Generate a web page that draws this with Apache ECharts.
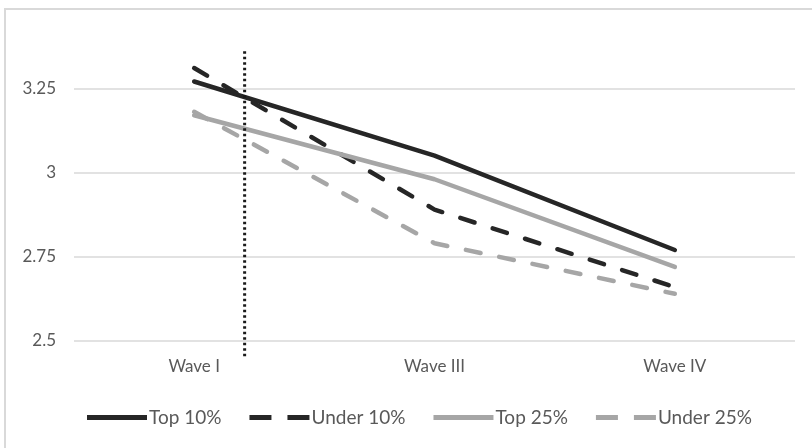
<!DOCTYPE html>
<html><head><meta charset="utf-8">
<script src="https://cdn.jsdelivr.net/npm/echarts@6/dist/echarts.min.js"></script>
<style>html,body{margin:0;padding:0;background:#fff}#c{width:812px;height:448px}</style>
</head><body><div id="c"></div>
<script>
const categories = ['Wave I', 'Wave III', 'Wave IV'];
const top10 = [3.27, 3.05, 2.77];
const under10 = [3.31, 2.89, 2.66];
const top25 = [3.17, 2.98, 2.72];
const under25 = [3.18, 2.79, 2.64];
const yTicks = [2.5, 2.75, 3, 3.25];
// dotted reference line: position between categories (fraction of the way from Wave I to Wave III) and vertical extent (value units)
const refFrac = 0.21;
const refY = [3.36, 2.455];

const chart = echarts.init(document.getElementById('c'));
const font = 'Lato, "Open Sans", sans-serif';
function mk(name, data, color, dashed) {
  return {
    name, type: 'line', data, symbol: 'none', smooth: false,
    lineStyle: { color, width: 4.5, type: dashed ? [15, 19] : 'solid', cap: 'round' },
    itemStyle: { color }
  };
}
const solidIcon = 'path://M0,0 L60,0 L60,5 L0,5 Z';
const dashIcon = 'path://M0,0 L22,0 L22,5 L0,5 Z M38,0 L60,0 L60,5 L38,5 Z';
chart.setOption({
  animation: false,
  textStyle: { fontFamily: font },
  grid: { left: 74, right: 17, top: 4, bottom: 107 },
  xAxis: {
    type: 'category', data: categories, boundaryGap: true,
    axisLine: { show: false }, axisTick: { show: false },
    axisLabel: { color: '#595959', fontSize: 17, fontFamily: font, margin: 17 }
  },
  yAxis: {
    type: 'value', min: 2.5, max: 3.5, interval: 0.25,
    axisLine: { show: false }, axisTick: { show: false },
    axisLabel: { color: '#595959', fontSize: 17, fontFamily: font, margin: 18, showMaxLabel: false,
      formatter: v => yTicks.includes(v) ? String(v) : '' },
    splitLine: { showMaxLine: false, lineStyle: { color: '#d9d9d9', width: 1.5 } }
  },
  legend: {
    bottom: 16, left: 82, itemWidth: 60, itemHeight: 5, itemGap: 28,
    textStyle: { color: '#595959', fontSize: 19, fontFamily: font, padding: [0, 0, 0, -3] },
    data: [
      { name: 'Top 10%', icon: solidIcon },
      { name: 'Under 10%', icon: dashIcon },
      { name: 'Top 25%', icon: solidIcon },
      { name: 'Under 25%', icon: dashIcon }
    ]
  },
  series: [
    mk('Top 10%', top10, '#262626', false),
    mk('Under 10%', under10, '#262626', true),
    mk('Top 25%', top25, '#a6a6a6', false),
    mk('Under 25%', under25, '#a6a6a6', true)
  ]
});
const a = chart.convertToPixel({ gridIndex: 0 }, [0, refY[0]]);
const b = chart.convertToPixel({ gridIndex: 0 }, [1, refY[1]]);
const rx = a[0] + (b[0] - a[0]) * refFrac;
chart.setOption({
  graphic: [
    { type: 'rect', shape: { x: 5, y: 9, width: 900, height: 600 }, style: { fill: 'none', stroke: '#d9d9d9', lineWidth: 2 }, silent: true },
    { type: 'line', shape: { x1: rx, y1: a[1], x2: rx, y2: b[1] }, style: { stroke: '#1a1a1a', lineWidth: 3, lineDash: [2.5, 3] }, z: 10 }
  ]
});
</script></body></html>
